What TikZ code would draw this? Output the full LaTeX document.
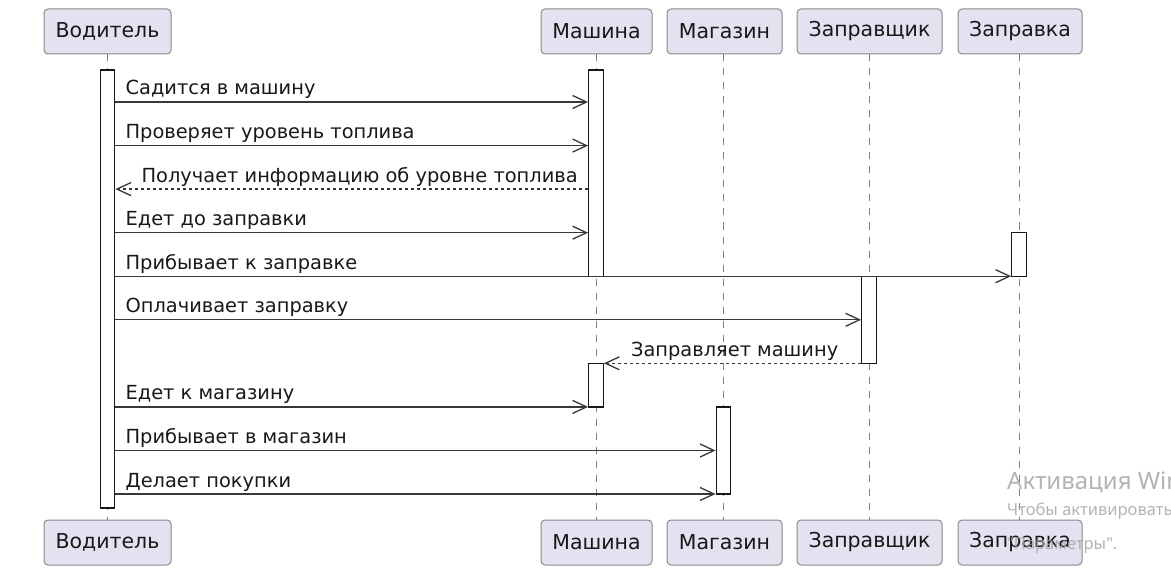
\documentclass[tikz,border=0pt]{standalone}
\usepackage{fontspec}
\setmainfont{DejaVu Sans}
\newfontfamily\wmfont{Noto Sans}
\usetikzlibrary{arrows.meta}
\definecolor{partfill}{HTML}{E2E2F0}
\definecolor{partline}{HTML}{8A8A8A}
\definecolor{ink}{HTML}{181818}
\definecolor{lineink}{HTML}{383838}
\definecolor{wmgray}{HTML}{A6A6A6}

\begin{document}
\begin{tikzpicture}[x=1pt,y=-1pt,
  participant/.style={draw=partline, line width=1pt, fill=partfill, rounded corners=4pt,
    minimum height=45pt, inner sep=0pt, font=\fontsize{20.5}{24}\selectfont, text=ink},
  actbar/.style={draw=ink, line width=1.3pt, fill=white, minimum width=14.5pt, inner sep=0pt},
  lifeline/.style={draw=ink!55, line width=1pt, dash pattern=on 7pt off 7pt},
  msg/.style={draw=lineink, line width=1.3pt,
    -{Straight Barb[length=14pt,width=13pt,line width=1.3pt]}},
  reply/.style={msg, dash pattern=on 3pt off 3pt},
  lbl/.style={anchor=base west, inner sep=0pt, font=\fontsize{19.4}{23}\selectfont, text=ink},
  watermark/.style={anchor=base west, inner sep=0pt, text=wmgray, opacity=0.85},
]
\useasboundingbox (0,0) rectangle (1171,575);
\clip (0,0) rectangle (1171,575);

% participants, top row
\node[participant, minimum width=127pt] (pVt) at (107.5,31.5) {Водитель};
\node[participant, minimum width=111pt] (pMt) at (596.5,31.5) {Машина};
\node[participant, minimum width=115pt] (pGt) at (724.5,31.5) {Магазин};
\node[participant, minimum width=145pt] (pRt) at (869.5,31.5) {Заправщик};
\node[participant, minimum width=124pt] (pSt) at (1020,31.5) {Заправка};
% participants, bottom row
\node[participant, minimum width=127pt] (pVb) at (107.5,542.5) {Водитель};
\node[participant, minimum width=111pt] (pMb) at (596.5,542.5) {Машина};
\node[participant, minimum width=115pt] (pGb) at (724.5,542.5) {Магазин};
\node[participant, minimum width=145pt] (pRb) at (869.5,542.5) {Заправщик};
\node[participant, minimum width=124pt] (pSb) at (1020,542.5) {Заправка};

% lifelines
\coordinate (xV) at (107.5,0);
\coordinate (xM) at (596,0);
\coordinate (xG) at (723.5,0);
\coordinate (xR) at (869,0);
\coordinate (xS) at (1019,0);
\draw[lifeline] (xV |- pVt.south) -- (xV |- pVb.north);
\draw[lifeline] (xM |- pMt.south) -- (xM |- pMb.north);
\draw[lifeline] (xG |- pGt.south) -- (xG |- pGb.north);
\draw[lifeline] (xR |- pRt.south) -- (xR |- pRb.north);
\draw[lifeline] (xS |- pSt.south) -- (xS |- pSb.north);

% message rows
\coordinate (m1) at (0,102);
\coordinate (m2) at (0,145.6);
\coordinate (m3) at (0,189.1);
\coordinate (m4) at (0,232.7);
\coordinate (m5) at (0,276.2);
\coordinate (m6) at (0,319.8);
\coordinate (m7) at (0,363.3);
\coordinate (m8) at (0,406.9);
\coordinate (m9) at (0,450.5);
\coordinate (m10) at (0,494);

% activation bars
\node[actbar, minimum height=438pt] (aV) at (107.5,289) {};
\node[actbar, minimum height=206.2pt] (aM1) at (596,173.1) {};
\node[actbar, minimum height=43.5pt] (aS) at (1019,254.45) {};
\node[actbar, minimum height=87.1pt] (aR) at (869,319.75) {};
\node[actbar, minimum height=43.6pt] (aM2) at (596,385.1) {};
\node[actbar, minimum height=87.1pt] (aG) at (723.5,450.45) {};

% messages
\draw[msg] (aV.east |- m1) -- (aM1.west |- m1);
\node[lbl] (t1) at ([xshift=10pt,yshift=7pt]aV.east |- m1) {Садится в машину};
\draw[msg] (aV.east |- m2) -- (aM1.west |- m2);
\node[lbl] (t2) at ([xshift=10pt,yshift=7pt]aV.east |- m2) {Проверяет уровень топлива};
\draw[reply] (aM1.west |- m3) -- (aV.east |- m3);
\node[lbl] (t3) at ([xshift=26pt,yshift=7pt]aV.east |- m3) {Получает информацию об уровне топлива};
\draw[msg] (aV.east |- m4) -- (aM1.west |- m4);
\node[lbl] (t4) at ([xshift=10pt,yshift=7pt]aV.east |- m4) {Едет до заправки};
\draw[msg] (aV.east |- m5) -- (aS.west |- m5);
\node[lbl] (t5) at ([xshift=10pt,yshift=7pt]aV.east |- m5) {Прибывает к заправке};
\draw[msg] (aV.east |- m6) -- (aR.west |- m6);
\node[lbl] (t6) at ([xshift=10pt,yshift=7pt]aV.east |- m6) {Оплачивает заправку};
\draw[reply] (aR.west |- m7) -- (aM2.east |- m7);
\node[lbl] (t7) at ([xshift=27pt,yshift=7pt]aM2.east |- m7) {Заправляет машину};
\draw[msg] (aV.east |- m8) -- (aM2.west |- m8);
\node[lbl] (t8) at ([xshift=10pt,yshift=7pt]aV.east |- m8) {Едет к магазину};
\draw[msg] (aV.east |- m9) -- (aG.west |- m9);
\node[lbl] (t9) at ([xshift=10pt,yshift=7pt]aV.east |- m9) {Прибывает в магазин};
\draw[msg] (aV.east |- m10) -- (aG.west |- m10);
\node[lbl] (t10) at ([xshift=10pt,yshift=7pt]aV.east |- m10) {Делает покупки};

% system notice overlay in the lower right corner
\node[watermark, font=\wmfont\fontsize{24}{28}\selectfont] (w1) at (1007,489) {Активация Windows};
\node[watermark, font=\wmfont\fontsize{16.5}{20}\selectfont] (w2) at (1007,515) {Чтобы активировать Windows,};
\node[watermark, font=\wmfont\fontsize{16.5}{20}\selectfont] (w3) at (1007,549) {"Параметры".};
\end{tikzpicture}
\end{document}
